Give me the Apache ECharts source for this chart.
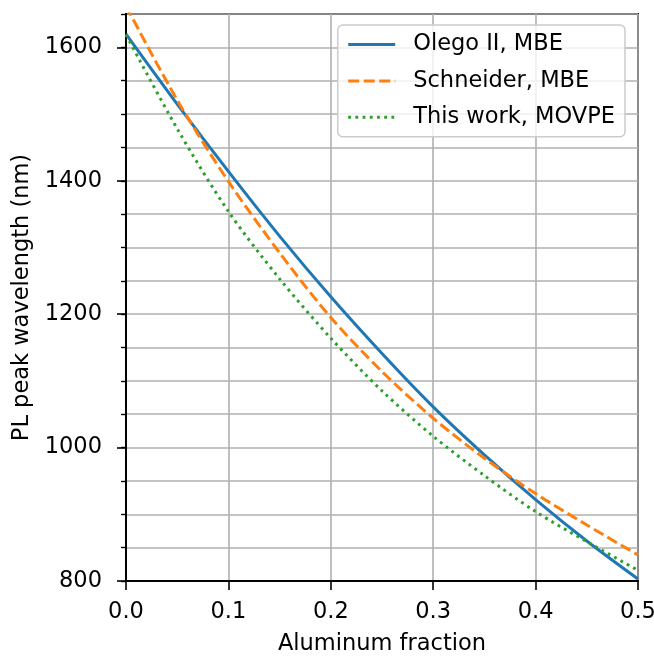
<!DOCTYPE html>
<html>
<head>
<meta charset="utf-8">
<script src="https://cdn.jsdelivr.net/npm/echarts@6/dist/echarts.min.js"></script>
<style>
  html, body { margin: 0; padding: 0; background: #fff; }
  #main { width: 654px; height: 656px; }
</style>
</head>
<body>
<div id="main"></div>
<script>
(function(){
    // aluminum fraction sampled every 0.05
    var alFraction = [0, 0.05, 0.1, 0.15, 0.2, 0.25, 0.3, 0.35, 0.4, 0.45, 0.5];
    var olegoMBE = [1620, 1515, 1414, 1317, 1226, 1141, 1061, 989, 922, 860, 803];
    var schneiderMBE = [1662, 1521, 1399, 1292, 1195, 1114, 1044, 984, 931, 884, 839];
    var thisWorkMOVPE = [1619, 1478, 1354, 1253, 1164, 1085, 1017, 958, 904, 859, 816];
    var seriesNames = ['Olego II, MBE', 'Schneider, MBE', 'This work, MOVPE'];
    var yTickLabels = [800, 1000, 1200, 1400, 1600];

    var FONT = 'DejaVu Sans';
    var FS = 22.5;

    function pairs(ys){
        return alFraction.map(function(x, i){ return [x, ys[i]]; });
    }

    var option = {
        animation: false,
        backgroundColor: '#fff',
        textStyle: { fontFamily: FONT },
        grid: {
            left: 126, right: 16, top: 14, bottom: 75,
            outerBoundsMode: 'none', containLabel: false,
            show: true, borderColor: '#000', borderWidth: 2
        },
        legend: {
            orient: 'vertical',
            right: 29, top: 25,
            padding: [8, 10, 8, 9],
            itemWidth: 47, itemHeight: 20, itemGap: 13.4,
            itemStyle: { opacity: 0 },
            lineStyle: { width: 3 },
            backgroundColor: 'rgba(255,255,255,0.8)',
            borderColor: '#cccccc', borderWidth: 1.5, borderRadius: 5,
            textStyle: { fontFamily: FONT, fontSize: FS, color: '#000', padding: [0, 0, 0, 13] },
            data: seriesNames
        },
        xAxis: {
            type: 'value', min: 0, max: 0.5, interval: 0.1,
            name: 'Aluminum fraction', nameLocation: 'middle', nameGap: 52,
            nameTextStyle: { fontFamily: FONT, fontSize: FS, color: '#000' },
            axisLine: { show: true, onZero: false, lineStyle: { color: '#000', width: 2 } },
            axisTick: { show: true, inside: false, length: 9, lineStyle: { color: '#000', width: 1.6 } },
            axisLabel: {
                fontFamily: FONT, fontSize: FS, color: '#000', margin: 20,
                formatter: function(v){ return v.toFixed(1); }
            },
            splitLine: { show: true, lineStyle: { color: '#b0b0b0', width: 1.6 } }
        },
        yAxis: [{
            type: 'value', min: 800, max: 1650, interval: 50,
            axisLine: { show: true, lineStyle: { color: '#000', width: 2 } },
            axisTick: { show: true, length: 5, lineStyle: { color: '#000', width: 1.4 } },
            axisLabel: { show: false },
            splitLine: { show: true, lineStyle: { color: '#b0b0b0', width: 1.6 } }
        }, {
            type: 'value', min: 800, max: 1650, position: 'left',
            name: 'PL peak wavelength (nm)', nameLocation: 'middle', nameGap: 84,
            nameTextStyle: { fontFamily: FONT, fontSize: FS, color: '#000' },
            axisLine: { show: true, lineStyle: { color: '#000', width: 2 } },
            axisTick: { show: true, length: 9, customValues: yTickLabels, lineStyle: { color: '#000', width: 1.6 } },
            axisLabel: {
                fontFamily: FONT, fontSize: FS, color: '#000', margin: 24,
                customValues: yTickLabels,
                formatter: function(v){ return String(v); }
            },
            splitLine: { show: false }
        }],
        series: [{
            name: seriesNames[0], type: 'line', yAxisIndex: 0,
            data: pairs(olegoMBE), smooth: 0.3, symbol: 'none',
            lineStyle: { color: '#1f77b4', width: 3, type: 'solid' },
            itemStyle: { color: '#1f77b4' }, z: 3
        }, {
            name: seriesNames[1], type: 'line', yAxisIndex: 0,
            data: pairs(schneiderMBE), smooth: 0.3, symbol: 'none',
            lineStyle: { color: '#ff7f0e', width: 3, type: [11, 4.5] },
            itemStyle: { color: '#ff7f0e' }, z: 3
        }, {
            name: seriesNames[2], type: 'line', yAxisIndex: 0,
            data: pairs(thisWorkMOVPE), smooth: 0.3, symbol: 'none',
            lineStyle: { color: '#2ca02c', width: 3, type: [2.8, 4.4] },
            itemStyle: { color: '#2ca02c' }, z: 3
        }]
    };

    var myChart = echarts.init(document.getElementById('main'), null, { renderer: 'canvas' });
    myChart.setOption(option);
})();
</script>
</body>
</html>
